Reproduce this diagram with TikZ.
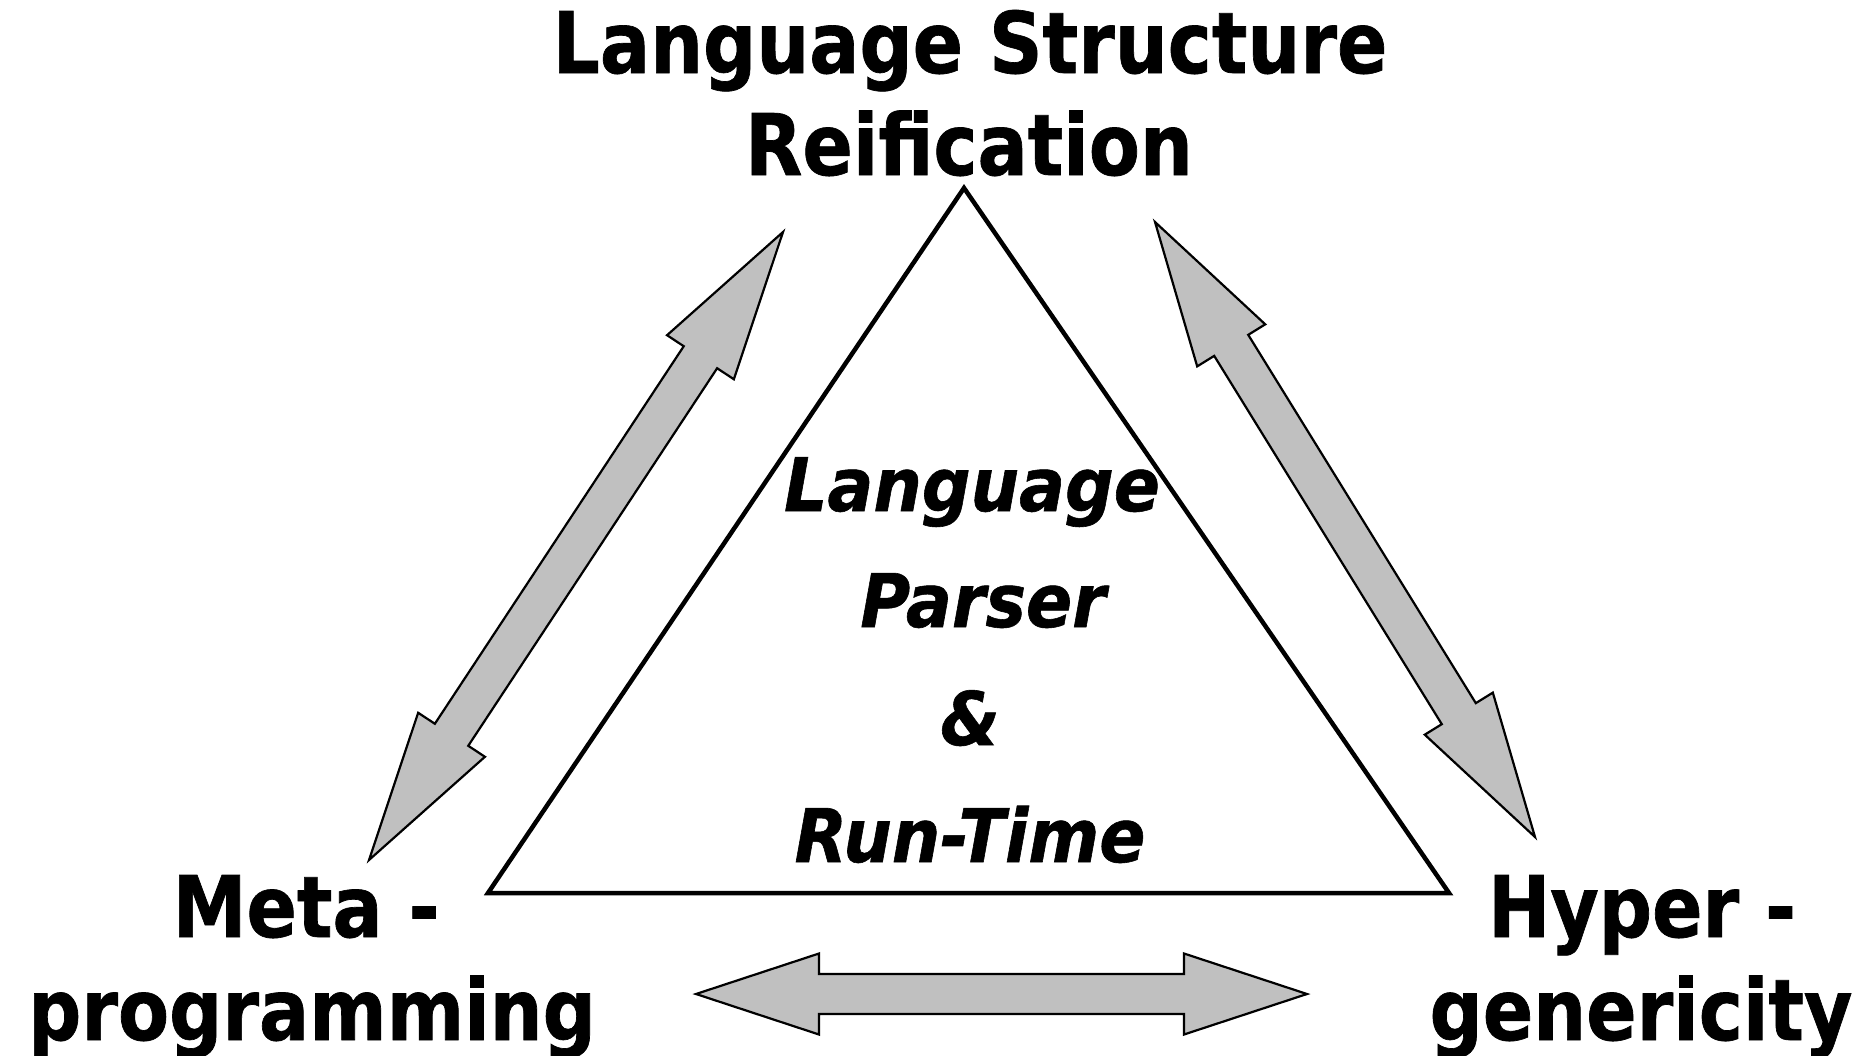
\documentclass[tikz,border=0pt]{standalone}
\usepackage{fontspec}
\newfontfamily\dvs{DejaVu Sans}[FakeStretch=0.875, FakeBold=0.8,
  BoldFont={DejaVu Sans Bold},
  ItalicFont={DejaVu Sans Oblique},
  BoldItalicFont={DejaVu Sans Bold Oblique}]
\newfontfamily\dvsi{DejaVu Sans}[FakeStretch=0.92, FakeBold=0.8,
  BoldFont={DejaVu Sans Bold},
  ItalicFont={DejaVu Sans Oblique},
  BoldItalicFont={DejaVu Sans Bold Oblique}]
\usetikzlibrary{calc}
\definecolor{arrowgray}{RGB}{192,192,192}
% fat double arrow between two named coordinates:
% #1 start, #2 end, #3 head length, #4 head half-width, #5 shaft half-width
\newcommand\fatdarrow[5]{%
  \coordinate (fa1) at ($(#1)!#3!(#2)$);
  \coordinate (fa2) at ($(#2)!#3!(#1)$);
  \draw[fatarrow] (#1) -- ($(fa1)!#4!90:(#2)$) -- ($(fa1)!#5!90:(#2)$)
    -- ($(fa2)!#5!-90:(#1)$) -- ($(fa2)!#4!-90:(#1)$) -- (#2)
    -- ($(fa2)!#4!90:(#1)$) -- ($(fa2)!#5!90:(#1)$)
    -- ($(fa1)!#5!-90:(#2)$) -- ($(fa1)!#4!-90:(#2)$) -- cycle;}
\begin{document}
\begin{tikzpicture}[x=1pt,y=-1pt,
  big/.style={font=\dvs\bfseries\fontsize{85}{102}\selectfont, anchor=base, inner sep=0pt},
  mid/.style={font=\dvsi\bfseries\itshape\fontsize{74}{90}\selectfont, anchor=base, inner sep=0pt},
  fatarrow/.style={draw=black, fill=arrowgray, line width=2.2pt, line join=miter},
  tri/.style={draw=black, line width=4.5pt, line join=miter}]
\useasboundingbox (0,0) rectangle (1866,1055);
\fill[white] (0,0) rectangle (1866,1055);

% triangle
\coordinate (ta) at (964,188);
\coordinate (tl) at (488,893);
\coordinate (tr) at (1449,893);
\draw[tri] (ta) -- (tl) -- (tr) -- cycle;

% arrows
\coordinate (la) at (783,232);
\coordinate (lb) at (369,860);
\fatdarrow{la}{lb}{150pt}{40pt}{20pt}
\coordinate (ra) at (1155,222);
\coordinate (rb) at (1535,837);
\fatdarrow{ra}{rb}{145pt}{40pt}{20pt}
\coordinate (ba) at (696,994);
\coordinate (bb) at (1307,994);
\fatdarrow{ba}{bb}{123pt}{40.5pt}{20pt}

% labels
\node[big] (top1) at (970,73) {Language Structure};
\node[big] (top2) at (969,175) {Reification};
\node[big] (lft1) at (306,937) {Meta -};
\node[big] (lft2) at (312,1040) {programming};
\node[big] (rgt1) at (1642,937) {Hyper -};
\node[big] (rgt2) at (1641,1040) {genericity};

\node[mid] (c1) at (972,511) {Language};
\node[mid] (c2) at (983,627) {Parser};
\node[mid] (c3) at (970,745) {\&};
\node[mid] (c4) at (970,862) {Run-Time};
\end{tikzpicture}
\end{document}
